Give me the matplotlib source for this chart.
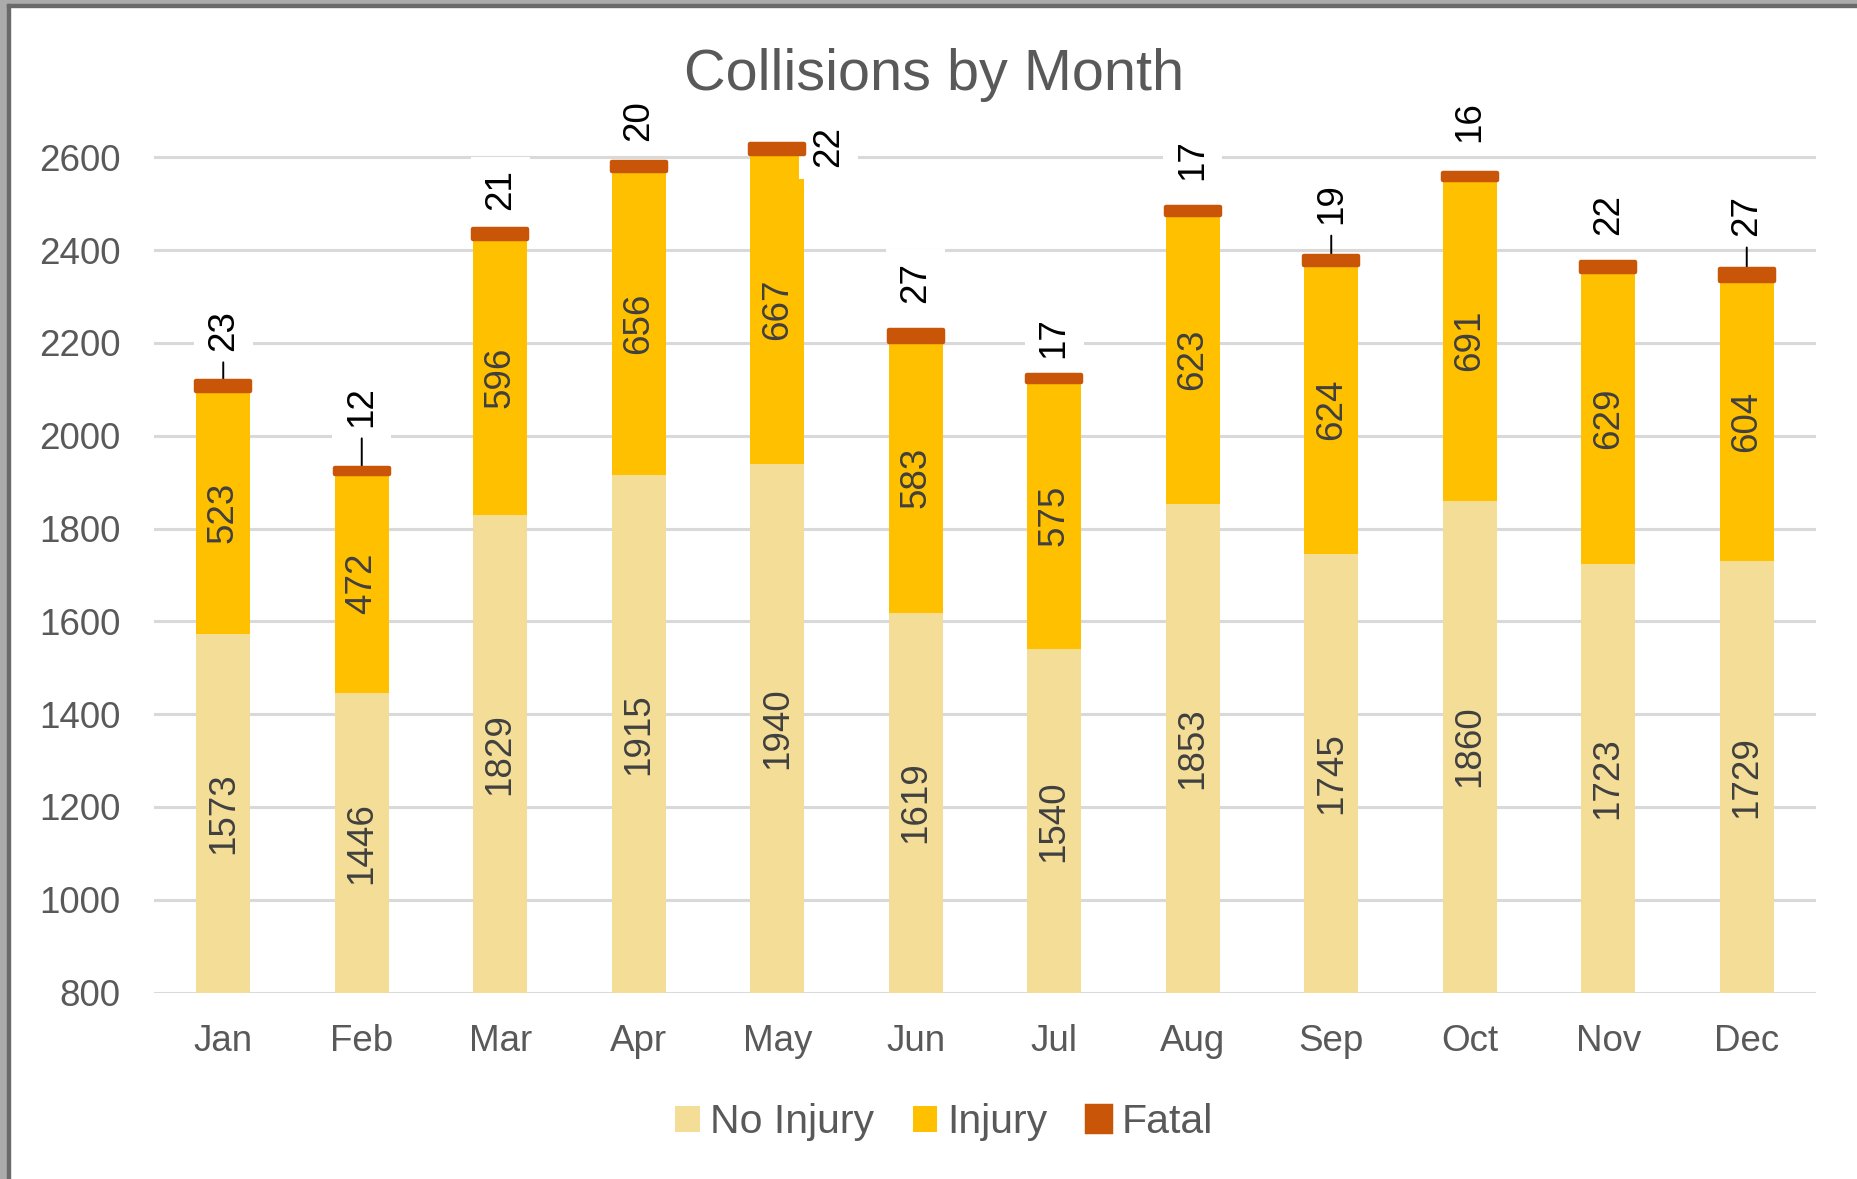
import matplotlib
matplotlib.use("Agg")
import matplotlib.pyplot as plt
from matplotlib.patches import Rectangle
import numpy as np

plt.rcParams['font.family'] = ['Liberation Sans', 'DejaVu Sans']

months = ["Jan", "Feb", "Mar", "Apr", "May", "Jun", "Jul", "Aug", "Sep", "Oct", "Nov", "Dec"]
no_injury = [1573, 1446, 1829, 1915, 1940, 1619, 1540, 1853, 1745, 1860, 1723, 1729]
injury = [523, 472, 596, 656, 667, 583, 575, 623, 624, 691, 629, 604]
fatal = [23, 12, 21, 20, 22, 27, 17, 17, 19, 16, 22, 27]
y_ticks = [800, 1000, 1200, 1400, 1600, 1800, 2000, 2200, 2400, 2600]

# label placement styling (offsets in points above bar top) and leader lines
fatal_label_gap = [21.6, 30, 13.7, 15, None, 19.4, 12.2, 19.4, 23, 22.3, 19.4, 23.8]
fatal_leader = [True, True, False, False, False, False, False, False, True, False, False, True]

C_NO = "#F4DD96"
C_INJ = "#FFC000"
C_FAT = "#C95508"
BASE = 800

W, H = 1857, 1179
fig = plt.figure(figsize=(W / 100, H / 100), dpi=100)
ax = fig.add_axes([154 / W, 1 - 992.5 / H, (1816 - 154) / W, (992.5 - 111) / H])

x = np.arange(len(months))
bw = 0.39
ni = np.array(no_injury)
inj = np.array(injury)
fat = np.array(fatal)

ax.bar(x, ni - BASE, bw, bottom=BASE, color=C_NO, zorder=2, label="No Injury")
ax.bar(x, inj, bw, bottom=ni, color=C_INJ, zorder=2, label="Injury")
ax.bar(x, fat, bw, bottom=ni + inj, color=C_FAT, edgecolor=C_FAT, linewidth=3.2,
       joinstyle='round', zorder=5, label="Fatal")

ax.set_xlim(-0.5, 11.5)
ax.set_ylim(BASE, 2700)
ax.set_yticks(y_ticks)
ax.set_xticks(x)
ax.set_xticklabels(months)
ax.yaxis.grid(True, color="#D9D9D9", linewidth=2.2, zorder=0)
ax.set_axisbelow(True)
for s in ax.spines.values():
    s.set_visible(False)
ax.tick_params(axis='both', length=0, labelsize=26.5, labelcolor="#595959")
ax.tick_params(axis='y', pad=24)
ax.tick_params(axis='x', pad=22.5)

lab_kw = dict(rotation=90, ha='center', va='center', fontsize=26.5, color="#404040", zorder=6)
for i in range(len(months)):
    ax.text(x[i], (BASE + ni[i]) / 2, str(ni[i]), **lab_kw)
    ax.text(x[i], ni[i] + inj[i] / 2, str(inj[i]), **lab_kw)
    top = ni[i] + inj[i] + fat[i]
    bbox = dict(boxstyle='square,pad=0.33', facecolor='white', edgecolor='none')
    if fatal_label_gap[i] is None:
        ax.annotate(str(fat[i]), (x[i], top), xytext=(37, 13), textcoords='offset points',
                    rotation=90, ha='center', va='top', fontsize=26.5, color='black',
                    bbox=bbox, zorder=4, annotation_clip=False)
    else:
        ax.annotate(str(fat[i]), (x[i], top), xytext=(0, fatal_label_gap[i]),
                    textcoords='offset points', rotation=90, ha='center', va='bottom',
                    fontsize=26.5, color='black', bbox=bbox, zorder=4,
                    annotation_clip=False)
        if fatal_leader[i]:
            ax.annotate("", (x[i], top), xytext=(0, fatal_label_gap[i] - 8.5),
                        textcoords='offset points',
                        arrowprops=dict(arrowstyle='-', color='black', lw=1.4,
                                        shrinkA=0, shrinkB=0), zorder=4)

fig.text(934 / W, 1 - 75 / H, "Collisions by Month", ha='center', va='center',
         fontsize=41.5, color="#595959")

fig.legend(loc='center', bbox_to_anchor=(944 / W, 1 - 1122 / H), ncol=3, frameon=False,
           fontsize=29.5, labelcolor="#595959", handlelength=0.6, handleheight=0.6,
           handletextpad=0.25, columnspacing=0.95)

# chart frame (grey border at left/top)
fig.add_artist(Rectangle((0, 0), 7 / W, 1, transform=fig.transFigure, color="#ABABAB", zorder=10))
fig.add_artist(Rectangle((0, 1 - 4 / H), 1, 4 / H, transform=fig.transFigure, color="#ABABAB", zorder=10))
fig.add_artist(Rectangle((7 / W, 0), 2.5 / W, 1 - 4 / H, transform=fig.transFigure, color="#6A6A6A", zorder=10))
fig.add_artist(Rectangle((7 / W, 1 - 7 / H), 1, 3 / H, transform=fig.transFigure, color="#6A6A6A", zorder=10))

fig.savefig("out.png", dpi=100, facecolor='white')
